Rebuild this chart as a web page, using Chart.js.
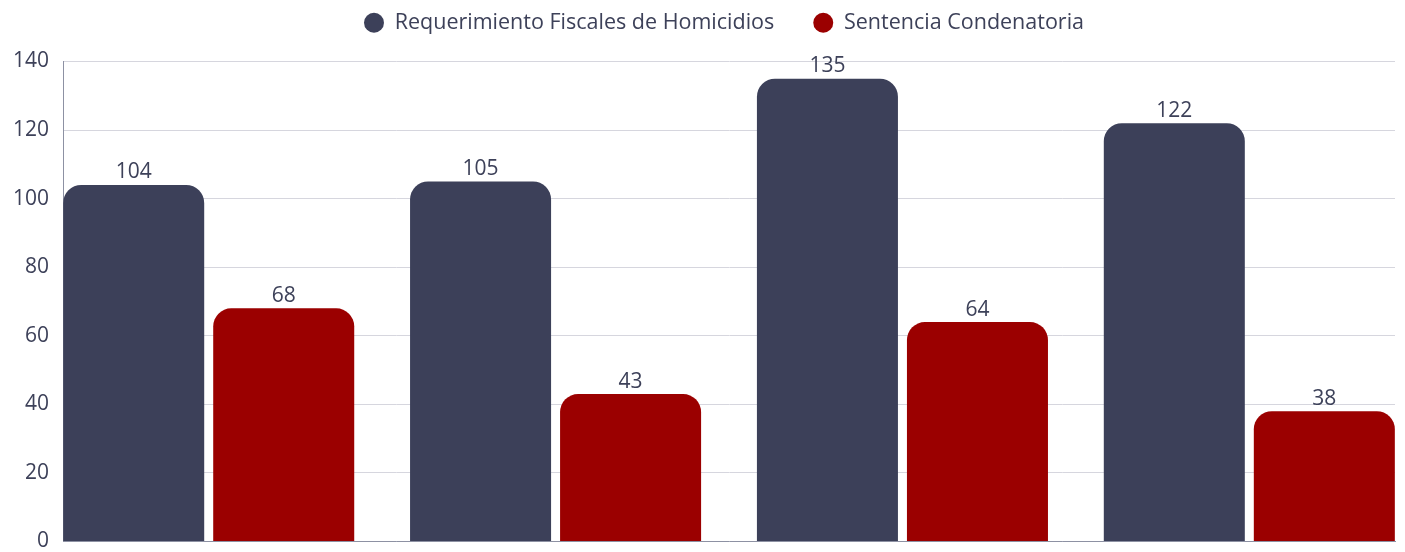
<!DOCTYPE html>
<html>
<head>
    <meta charset="UTF-8">
    <title>Requerimientos y sentencias</title>
    <script src="https://cdn.jsdelivr.net/npm/chart.js"></script>
    <style>
        html, body { margin: 0; padding: 0; background: #fff; }
        .chart-container { width: 1405px; height: 552px; position: relative; }
    </style>
</head>
<body>
    <div class="chart-container">
        <canvas id="homicidiosChart"></canvas>
    </div>
    <script>
        // datos
        const categorias = ['Periodo 1', 'Periodo 2', 'Periodo 3', 'Periodo 4'];
        const requerimientos = [104, 105, 135, 122];
        const sentencias = [68, 43, 64, 38];
        const ticksY = [0, 20, 40, 60, 80, 100, 120, 140];

        const colorTexto = '#3d4159';
        const fuente = "'Open Sans', sans-serif";

        // etiquetas de valor encima de cada barra
        const etiquetasValor = {
            id: 'etiquetasValor',
            afterDatasetsDraw(chart) {
                const ctx = chart.ctx;
                ctx.save();
                ctx.font = '21px ' + fuente;
                ctx.fillStyle = colorTexto;
                ctx.textAlign = 'center';
                ctx.textBaseline = 'bottom';
                chart.data.datasets.forEach((ds, i) => {
                    chart.getDatasetMeta(i).data.forEach((bar, j) => {
                        ctx.fillText(ds.data[j].y, bar.x, bar.y - 2);
                    });
                });
                ctx.restore();
            }
        };

        // espacio entre leyenda y grafico
        const margenLeyenda = {
            id: 'margenLeyenda',
            beforeInit(chart) {
                const fit = chart.legend.fit;
                chart.legend.fit = function () {
                    fit.bind(chart.legend)();
                    this.height += 18;
                    this.lineWidths[0] -= 40;
                };
            }
        };

        const ctx = document.getElementById('homicidiosChart').getContext('2d');
        const homicidiosChart = new Chart(ctx, {
            type: 'bar',
            data: {
                datasets: [
                    {
                        label: 'Requerimiento Fiscales de Homicidios',
                        data: requerimientos.map((v, i) => ({ x: i, y: v })),
                        backgroundColor: '#3c4059',
                        borderRadius: { topLeft: 18, topRight: 18 },
                        borderSkipped: 'bottom'
                    },
                    {
                        label: 'Sentencia Condenatoria',
                        data: sentencias.map((v, i) => ({ x: i, y: v })),
                        backgroundColor: '#9b0000',
                        borderRadius: { topLeft: 18, topRight: 18 },
                        borderSkipped: 'bottom'
                    }
                ]
            },
            options: {
                responsive: true,
                maintainAspectRatio: false,
                animation: false,
                layout: { padding: { top: -27, left: 13, right: 10, bottom: 0 } },
                datasets: {
                    bar: { categoryPercentage: 0.865, barPercentage: 0.94 }
                },
                plugins: {
                    legend: {
                        position: 'top',
                        labels: {
                            usePointStyle: true,
                            pointStyle: 'circle',
                            boxHeight: 14,
                            pointStyleWidth: 20,
                            padding: 39,
                            color: colorTexto,
                            font: { family: fuente, size: 21.5 }
                        }
                    },
                    tooltip: {
                        callbacks: {
                            title: (items) => categorias[items[0].dataIndex]
                        }
                    }
                },
                scales: {
                    x: {
                        type: 'linear',
                        offset: false,
                        min: -0.42,
                        max: categorias.length - 1 + 0.42,
                        afterBuildTicks: (axis) => {
                            axis.ticks = categorias.map((c, i) => ({ value: i }));
                        },
                        ticks: { display: false },
                        grid: { display: false, drawTicks: false },
                        border: { display: true, color: '#8d91a3', width: 1 }
                    },
                    y: {
                        min: 0,
                        max: 140,
                        afterBuildTicks: (axis) => {
                            axis.ticks = ticksY.map(v => ({ value: v }));
                        },
                        ticks: {
                            color: colorTexto,
                            padding: 0,
                            font: { family: fuente, size: 21, lineHeight: 1.0 }
                        },
                        grid: {
                            color: '#d6d6de',
                            drawTicks: true,
                            tickLength: 14,
                            tickColor: 'rgba(0,0,0,0)'
                        },
                        border: { display: true, color: '#8d91a3', width: 1 }
                    }
                }
            },
            plugins: [etiquetasValor, margenLeyenda]
        });
    </script>
</body>
</html>
